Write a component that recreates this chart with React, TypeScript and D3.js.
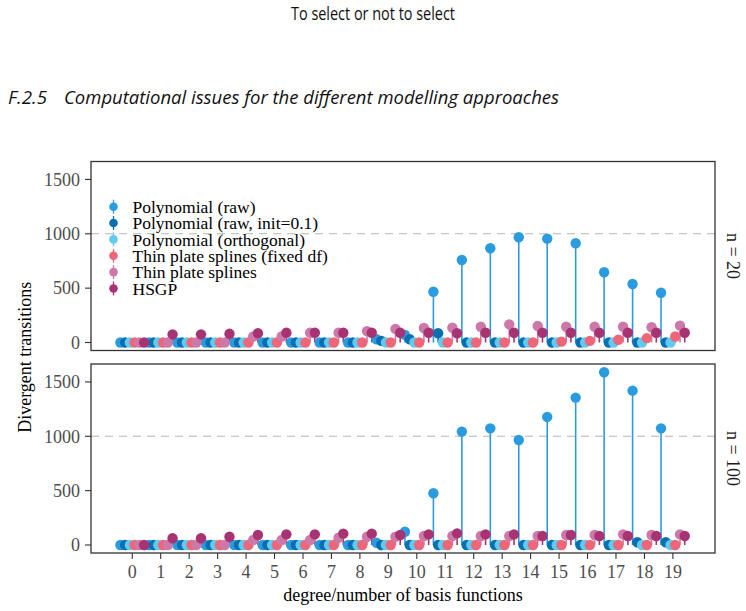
import { scaleLinear, select } from "d3";
import { useEffect, useRef } from "react";

const degrees = [0, 1, 2, 3, 4, 5, 6, 7, 8, 9, 10, 11, 12, 13, 14, 15, 16, 17, 18, 19];
const yTicks = [0, 500, 1000, 1500];
const models = [
  "Polynomial (raw)",
  "Polynomial (raw, init=0.1)",
  "Polynomial (orthogonal)",
  "Thin plate splines (fixed df)",
  "Thin plate splines",
  "HSGP",
];
const modelColors = ["#2b9be0", "#086fb1", "#62caee", "#ee6678", "#cc78a8", "#a83373"];
const panelLabels = ["n = 20", "n = 100"];

// n = 20
const rawN20 = [0, 0, 0, 0, 0, 0, 0, 0, 0, 30, 70, 467, 759, 867, 968, 955, 913, 646, 538, 458];
const initN20 = [0, 0, 0, 0, 0, 0, 0, 0, 0, 15, 30, 85, 0, 0, 0, 0, 0, 0, 0, 0];
const orthN20 = [0, 0, 0, 0, 0, 0, 0, 0, 0, 0, 0, 0, 0, 0, 0, 0, 0, 0, 0, 0];
const tpsFixedN20 = [0, 0, 0, 0, 0, 0, 0, 0, 0, 0, 0, 0, 0, 0, 0, 8, 15, 25, 40, 55];
const tpsN20 = [0, 0, 0, 0, 55, 55, 90, 90, 105, 125, 133, 136, 145, 167, 152, 145, 145, 145, 140, 155];
const hsgpN20 = [0, 75, 75, 80, 85, 90, 90, 90, 90, 90, 90, 85, 90, 90, 90, 90, 90, 90, 90, 90];

// n = 100
const rawN100 = [0, 0, 0, 0, 0, 0, 0, 0, 0, 20, 122, 476, 1043, 1073, 966, 1178, 1356, 1589, 1420, 1073];
const initN100 = [0, 0, 0, 0, 0, 0, 0, 0, 0, 0, 0, 0, 0, 0, 0, 0, 0, 0, 25, 25];
const orthN100 = [0, 0, 0, 0, 0, 0, 0, 0, 0, 0, 0, 0, 0, 0, 0, 0, 0, 0, 0, 0];
const tpsFixedN100 = [0, 0, 0, 0, 0, 0, 0, 0, 0, 0, 0, 0, 0, 0, 0, 0, 0, 0, 0, 0];
const tpsN100 = [0, 0, 0, 0, 46, 46, 46, 67, 76, 76, 83, 83, 83, 83, 83, 92, 92, 98, 92, 98];
const hsgpN100 = [0, 62, 62, 76, 92, 98, 98, 104, 104, 92, 98, 107, 98, 98, 83, 92, 83, 83, 83, 83];

const panelSeries = [
  [rawN20, initN20, orthN20, tpsFixedN20, tpsN20, hsgpN20],
  [rawN100, initN100, orthN100, tpsFixedN100, tpsN100, hsgpN100],
];

const SERIF = "'Liberation Serif', 'DejaVu Serif', serif";
const SANS = "'Open Sans', 'Noto Sans', sans-serif";

export default function App() {
  const svgRef = useRef<SVGSVGElement | null>(null);

  useEffect(() => {
    if (!svgRef.current) return;
    const svg = select(svgRef.current);
    svg.selectAll("*").remove();

    const width = 746;
    const height = 611;
    svg.attr("width", width).attr("height", height);

    // page headings
    svg
      .append("text")
      .attr("x", 291)
      .attr("y", 20)
      .attr("font-family", SANS)
      .attr("font-size", 19)
      .attr("textLength", 164)
      .attr("lengthAdjust", "spacingAndGlyphs")
      .attr("fill", "#111")
      .text("To select or not to select");
    svg
      .append("text")
      .attr("x", 8)
      .attr("y", 104)
      .attr("font-family", SANS)
      .attr("font-style", "italic")
      .attr("font-size", 19)
      .attr("textLength", 39)
      .attr("lengthAdjust", "spacingAndGlyphs")
      .attr("fill", "#111")
      .text("F.2.5");
    svg
      .append("text")
      .attr("x", 64)
      .attr("y", 104)
      .attr("font-family", SANS)
      .attr("font-style", "italic")
      .attr("font-size", 19)
      .attr("textLength", 495)
      .attr("lengthAdjust", "spacingAndGlyphs")
      .attr("fill", "#111")
      .text("Computational issues for the different modelling approaches");

    const left = 91;
    const right = 715;
    const panels = [
      { top: 161.5, bottom: 350.5 },
      { top: 364, bottom: 553 },
    ];
    const x = scaleLinear().domain([-1.45, 20.48]).range([left, right]);
    const step = x(1) - x(0);
    const dodge = (i: number) => ((i - (models.length - 1) / 2) * step) / models.length;

    panels.forEach((p, pi) => {
      const y = scaleLinear().domain([-73.6, 1665]).range([p.bottom, p.top]);
      const g = svg.append("g");

      g.append("line")
        .attr("x1", left)
        .attr("x2", right)
        .attr("y1", y(1000))
        .attr("y2", y(1000))
        .attr("stroke", "#b5b5b5")
        .attr("stroke-width", 1.1)
        .attr("stroke-dasharray", "8,6");

      const series = panelSeries[pi];
      // stems first
      series.forEach((values, si) => {
        g.append("g")
          .selectAll("line")
          .data(values)
          .join("line")
          .attr("x1", (_, i) => x(degrees[i]) + dodge(si))
          .attr("x2", (_, i) => x(degrees[i]) + dodge(si))
          .attr("y1", y(0))
          .attr("y2", (d) => y(d))
          .attr("stroke", modelColors[si])
          .attr("stroke-width", 1.6);
      });
      series.forEach((values, si) => {
        g.append("g")
          .selectAll("circle")
          .data(values)
          .join("circle")
          .attr("cx", (_, i) => x(degrees[i]) + dodge(si))
          .attr("cy", (d) => y(d))
          .attr("r", 5.2)
          .attr("fill", modelColors[si]);
      });

      // panel border
      g.append("rect")
        .attr("x", left)
        .attr("y", p.top)
        .attr("width", right - left)
        .attr("height", p.bottom - p.top)
        .attr("fill", "none")
        .attr("stroke", "#333")
        .attr("stroke-width", 1.3);

      // y axis
      yTicks.forEach((t) => {
        g.append("line")
          .attr("x1", left - 6)
          .attr("x2", left)
          .attr("y1", y(t))
          .attr("y2", y(t))
          .attr("stroke", "#333")
          .attr("stroke-width", 1.1);
        g.append("text")
          .attr("x", left - 11)
          .attr("y", y(t))
          .attr("dy", "0.35em")
          .attr("text-anchor", "end")
          .attr("font-family", SERIF)
          .attr("font-size", 18)
          .attr("fill", "#4d4d4d")
          .text(t);
      });

      // strip label
      const cy = (p.top + p.bottom) / 2;
      g.append("text")
        .attr("transform", `translate(${727},${cy}) rotate(90)`)
        .attr("text-anchor", "middle")
        .attr("font-family", SERIF)
        .attr("font-size", 18)
        .attr("fill", "#1a1a1a")
        .text(panelLabels[pi]);
    });

    // x axis
    const bottom = panels[1].bottom;
    degrees.forEach((d) => {
      svg
        .append("line")
        .attr("x1", x(d))
        .attr("x2", x(d))
        .attr("y1", bottom)
        .attr("y2", bottom + 6)
        .attr("stroke", "#333")
        .attr("stroke-width", 1.1);
      svg
        .append("text")
        .attr("x", x(d))
        .attr("y", bottom + 25)
        .attr("text-anchor", "middle")
        .attr("font-family", SERIF)
        .attr("font-size", 18)
        .attr("fill", "#4d4d4d")
        .text(d);
    });

    svg
      .append("text")
      .attr("x", (left + right) / 2)
      .attr("y", 601)
      .attr("text-anchor", "middle")
      .attr("font-family", SERIF)
      .attr("font-size", 18)
      .attr("fill", "#000")
      .text("degree/number of basis functions");
    svg
      .append("text")
      .attr("transform", `translate(31,${(panels[0].top + panels[1].bottom) / 2}) rotate(-90)`)
      .attr("text-anchor", "middle")
      .attr("font-family", SERIF)
      .attr("font-size", 18)
      .attr("fill", "#000")
      .text("Divergent transitions");

    // legend
    const legend = svg.append("g").attr("transform", "translate(113.5,206.7)");
    models.forEach((m, i) => {
      const item = legend.append("g").attr("transform", `translate(0,${i * 16.35})`);
      item
        .append("line")
        .attr("x1", 0)
        .attr("x2", 0)
        .attr("y1", -7)
        .attr("y2", 7)
        .attr("stroke", modelColors[i])
        .attr("stroke-width", 1.3);
      item.append("circle").attr("r", 4.3).attr("fill", modelColors[i]);
      item
        .append("text")
        .attr("x", 19)
        .attr("y", 0)
        .attr("dy", "0.35em")
        .attr("font-family", SERIF)
        .attr("font-size", 17.5)
        .attr("fill", "#000")
        .text(m);
    });
  }, []);

  return (
    <div style={{ position: "absolute", left: 0, top: 0 }}>
      <svg ref={svgRef} style={{ display: "block" }} role="img" aria-label="Divergent transitions chart" />
    </div>
  );
}
